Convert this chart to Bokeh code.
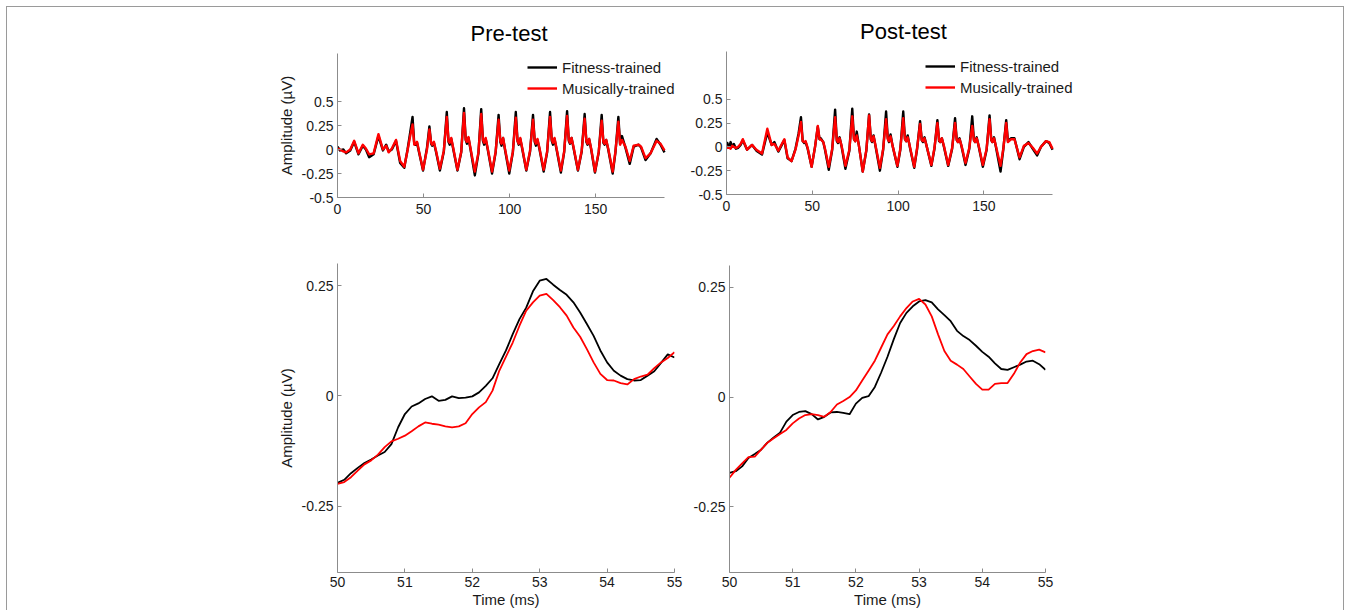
from bokeh.plotting import figure
from bokeh.models import Range1d, FixedTicker, Legend, LegendItem
from bokeh.layouts import row, column
from bokeh.embed import file_html
from bokeh.resources import INLINE

# ---------------- data: full response (0-190 ms) ----------------
PRE_T = [0.0, 1.5, 3.4, 5.0, 7.4, 9.7, 12.2, 14.7, 16.5, 18.4, 21.0, 23.8, 26.4, 28.3, 29.7, 31.6, 34.0, 36.4, 38.8, 40.7, 42.0,
         43.6, 44.6, 45.3, 46.2, 47.4, 49.7, 52.0,
         53.4, 54.4, 55.0, 56.0, 57.2, 59.5, 61.8,
         63.5, 64.5, 65.2, 66.1, 67.3, 69.7, 71.9,
         73.5, 74.5, 75.2, 76.1, 77.3, 79.8, 81.9,
         83.5, 84.5, 85.2, 86.1, 87.3, 89.8, 91.9,
         93.6, 94.6, 95.3, 96.2, 97.4, 99.8, 101.9,
         103.6, 104.6, 105.3, 106.2, 107.4, 109.7, 111.9,
         113.6, 114.6, 115.3, 116.2, 117.4, 119.8, 121.8,
         123.5, 124.5, 125.2, 126.1, 127.3, 129.8, 131.7,
         133.4, 134.4, 135.1, 136.0, 137.2, 139.7, 141.9,
         143.6, 144.6, 145.3, 146.2, 147.4, 149.6, 151.8,
         153.5, 154.5, 155.2, 156.1, 157.3, 159.9, 161.5,
         163.2, 164.2, 165.3, 167.3, 169.8, 172.1, 175.0, 176.4, 179.0, 181.9, 185.4, 187.7, 190.0]
PRE_FIT = [0.03, -0.01, 0.0, -0.04, -0.01, 0.08, -0.05, 0.04, 0.0, -0.08, -0.05, 0.14, -0.01, 0.05, -0.02, 0.0, 0.09, -0.14, -0.19, 0.0, 0.15,
           0.34, 0.06, 0.05, 0.07, -0.03, -0.22, 0.02,
           0.24, 0.06, 0.04, 0.07, -0.02, -0.22, -0.02,
           0.39, 0.08, 0.05, 0.11, 0.0, -0.22, -0.03,
           0.43, 0.10, 0.06, 0.12, 0.0, -0.27, -0.04,
           0.42, 0.09, 0.05, 0.11, 0.0, -0.25, -0.03,
           0.36, 0.08, 0.04, 0.12, -0.01, -0.25, -0.03,
           0.39, 0.09, 0.05, 0.11, 0.0, -0.22, -0.02,
           0.36, 0.08, 0.04, 0.10, 0.0, -0.23, -0.03,
           0.39, 0.09, 0.05, 0.11, 0.0, -0.24, -0.03,
           0.40, 0.09, 0.06, 0.12, 0.01, -0.22, -0.02,
           0.37, 0.08, 0.05, 0.11, 0.0, -0.24, -0.03,
           0.36, 0.07, 0.05, 0.10, 0.0, -0.25, -0.03,
           0.34, 0.06, 0.14, 0.02, -0.15, 0.03, 0.05, 0.02, -0.11, -0.04, 0.11, 0.05, -0.03]
PRE_MUS = [0.01, 0.0, -0.02, -0.03, 0.0, 0.09, -0.04, 0.05, 0.01, -0.05, -0.04, 0.16, 0.0, 0.04, -0.03, 0.01, 0.10, -0.12, -0.18, -0.01, 0.12,
           0.26, 0.05, 0.06, 0.08, -0.02, -0.21, 0.0,
           0.21, 0.07, 0.05, 0.08, -0.01, -0.20, -0.01,
           0.34, 0.09, 0.07, 0.12, 0.01, -0.21, -0.02,
           0.38, 0.10, 0.08, 0.13, 0.01, -0.23, -0.03,
           0.37, 0.10, 0.07, 0.12, 0.01, -0.23, -0.02,
           0.31, 0.09, 0.06, 0.12, 0.0, -0.22, -0.02,
           0.33, 0.09, 0.06, 0.12, 0.01, -0.21, -0.01,
           0.31, 0.09, 0.06, 0.11, 0.01, -0.21, -0.02,
           0.34, 0.10, 0.07, 0.12, 0.01, -0.22, -0.02,
           0.35, 0.10, 0.07, 0.12, 0.02, -0.21, -0.01,
           0.32, 0.09, 0.06, 0.11, 0.01, -0.23, -0.02,
           0.30, 0.08, 0.06, 0.10, 0.01, -0.23, -0.02,
           0.29, 0.05, 0.10, 0.03, -0.12, 0.04, 0.05, 0.03, -0.09, -0.04, 0.09, 0.06, -0.01]

POST_T = [0.0, 0.5, 1.4, 2.4, 3.3, 4.3, 5.5, 6.8, 8.2, 9.5, 12.0, 14.9, 17.4, 20.7, 23.8, 26.3, 27.9, 30.2, 33.7, 35.6, 37.9, 40.2, 42.0,
          43.4, 44.4, 45.3, 46.1, 47.3, 49.6, 51.6,
          53.2, 54.2, 54.9, 56.4, 57.4, 59.6, 61.6,
          63.3, 64.3, 65.0, 65.9, 67.1, 69.3, 71.6,
          73.3, 74.3, 75.0, 75.9, 77.1, 79.4, 81.5,
          83.1, 84.1, 84.8, 85.7, 86.9, 89.4, 91.3,
          93.0, 94.0, 94.7, 95.6, 96.8, 99.6, 101.3,
          103.0, 104.0, 104.7, 105.6, 106.8, 109.4, 111.1,
          112.8, 113.8, 114.5, 115.4, 116.6, 119.4, 121.2,
          122.9, 123.9, 124.6, 125.5, 126.7, 129.2, 131.5,
          133.2, 134.2, 134.9, 135.8, 137.0, 139.3, 141.5,
          143.2, 144.2, 144.9, 145.8, 147.0, 149.4, 151.6,
          153.3, 154.3, 155.0, 155.9, 157.1, 159.7, 161.3,
          163.0, 164.0, 165.9, 167.8, 170.8, 173.3, 176.0, 178.5, 181.0, 183.3, 186.2, 188.1, 190.0]
POST_FIT = [0.0, 0.04, -0.01, 0.05, 0.0, 0.03, -0.02, -0.01, 0.02, 0.07, -0.03, 0.02, -0.04, -0.08, 0.15, 0.02, 0.05, -0.05, 0.07, -0.12, -0.15, -0.02, 0.14,
            0.31, 0.06, 0.04, 0.05, -0.02, -0.21, 0.0,
            0.21, 0.08, 0.09, 0.05, -0.03, -0.24, -0.03,
            0.39, 0.06, 0.04, 0.10, 0.0, -0.23, -0.04,
            0.40, 0.08, 0.06, 0.16, 0.02, -0.26, -0.04,
            0.34, 0.08, 0.05, 0.12, 0.0, -0.25, -0.03,
            0.37, 0.09, 0.05, 0.13, 0.01, -0.21, -0.03,
            0.37, 0.08, 0.06, 0.12, 0.0, -0.22, -0.02,
            0.27, 0.07, 0.05, 0.10, 0.01, -0.20, -0.02,
            0.28, 0.06, 0.05, 0.09, 0.0, -0.20, -0.02,
            0.30, 0.07, 0.05, 0.09, 0.0, -0.19, -0.02,
            0.32, 0.07, 0.05, 0.10, 0.0, -0.21, -0.03,
            0.33, 0.07, 0.05, 0.10, -0.01, -0.26, -0.03,
            0.28, 0.06, 0.09, 0.09, -0.13, 0.0, 0.05, -0.02, -0.09, 0.0, 0.06, 0.04, -0.03]
POST_MUS = [-0.02, 0.0, -0.01, -0.02, 0.01, 0.0, -0.01, 0.0, 0.03, 0.08, -0.03, 0.02, -0.03, -0.07, 0.19, 0.02, 0.03, -0.04, 0.08, -0.11, -0.15, -0.03, 0.12,
            0.26, 0.06, 0.05, 0.06, -0.01, -0.21, 0.0,
            0.22, 0.08, 0.08, 0.05, -0.02, -0.21, -0.02,
            0.31, 0.07, 0.05, 0.09, 0.01, -0.20, -0.03,
            0.32, 0.08, 0.06, 0.12, 0.02, -0.26, -0.03,
            0.33, 0.08, 0.06, 0.11, 0.01, -0.22, -0.02,
            0.29, 0.08, 0.06, 0.11, 0.01, -0.20, -0.02,
            0.30, 0.08, 0.06, 0.10, 0.01, -0.21, -0.01,
            0.24, 0.07, 0.06, 0.09, 0.01, -0.19, -0.01,
            0.25, 0.07, 0.05, 0.09, 0.01, -0.19, -0.01,
            0.25, 0.07, 0.05, 0.08, 0.01, -0.17, -0.01,
            0.22, 0.07, 0.05, 0.09, 0.01, -0.19, -0.02,
            0.29, 0.07, 0.05, 0.09, 0.0, -0.20, -0.02,
            0.25, 0.05, 0.08, 0.08, -0.11, 0.01, 0.04, -0.01, -0.07, 0.0, 0.06, 0.05, -0.02]

# ---------------- data: 50-55 ms detail ----------------
ZOOM_T = [50.0, 50.1, 50.2, 50.3, 50.4, 50.5, 50.6, 50.7, 50.8, 50.9,
          51.0, 51.1, 51.2, 51.3, 51.4, 51.5, 51.6, 51.7, 51.8, 51.9,
          52.0, 52.1, 52.2, 52.3, 52.4, 52.5, 52.6, 52.7, 52.8, 52.9,
          53.0, 53.1, 53.2, 53.3, 53.4, 53.5, 53.6, 53.7, 53.8, 53.9,
          54.0, 54.1, 54.2, 54.3, 54.4, 54.5, 54.6, 54.7, 54.8, 54.9, 55.0]
PRE_FIT_Z = [-0.197, -0.190, -0.175, -0.163, -0.152, -0.144, -0.135, -0.127, -0.109, -0.071,
             -0.041, -0.024, -0.017, -0.007, -0.001, -0.011, -0.009, -0.001, -0.005, -0.004,
             -0.001, 0.008, 0.023, 0.040, 0.072, 0.103, 0.140, 0.174, 0.200, 0.237,
             0.261, 0.265, 0.252, 0.240, 0.229, 0.212, 0.189, 0.163, 0.136, 0.103,
             0.076, 0.057, 0.046, 0.038, 0.035, 0.036, 0.046, 0.056, 0.075, 0.094, 0.087]
PRE_MUS_Z = [-0.199, -0.195, -0.184, -0.169, -0.155, -0.146, -0.133, -0.116, -0.103, -0.097,
             -0.090, -0.080, -0.069, -0.060, -0.063, -0.065, -0.069, -0.071, -0.069, -0.062,
             -0.041, -0.026, -0.014, 0.012, 0.057, 0.089, 0.121, 0.159, 0.193, 0.212,
             0.227, 0.231, 0.217, 0.201, 0.182, 0.155, 0.134, 0.106, 0.076, 0.050,
             0.036, 0.035, 0.029, 0.026, 0.038, 0.044, 0.048, 0.063, 0.076, 0.086, 0.099]
POST_FIT_Z = [-0.173, -0.169, -0.158, -0.139, -0.130, -0.120, -0.104, -0.092, -0.081, -0.056,
              -0.041, -0.034, -0.032, -0.039, -0.051, -0.045, -0.035, -0.034, -0.036, -0.039,
              -0.015, -0.002, 0.002, 0.023, 0.056, 0.092, 0.132, 0.169, 0.192, 0.207,
              0.218, 0.221, 0.216, 0.200, 0.187, 0.173, 0.151, 0.139, 0.130, 0.117,
              0.103, 0.092, 0.077, 0.064, 0.062, 0.068, 0.074, 0.081, 0.083, 0.075, 0.062]
POST_MUS_Z = [-0.184, -0.166, -0.151, -0.137, -0.136, -0.120, -0.104, -0.094, -0.084, -0.075,
              -0.060, -0.049, -0.041, -0.039, -0.041, -0.045, -0.034, -0.017, -0.009, 0.0,
              0.015, 0.038, 0.060, 0.083, 0.113, 0.143, 0.162, 0.184, 0.203, 0.218,
              0.224, 0.211, 0.184, 0.143, 0.105, 0.083, 0.074, 0.064, 0.047, 0.030,
              0.017, 0.017, 0.030, 0.032, 0.032, 0.053, 0.079, 0.098, 0.105, 0.108, 0.102]

TOP_X_TICKS = [0, 50, 100, 150]
TOP_Y_TICKS = [-0.5, -0.25, 0, 0.25, 0.5]
BOT_X_TICKS = [50, 51, 52, 53, 54, 55]
BOT_Y_TICKS = [-0.25, 0, 0.25]
Y_LABELS = {-0.5: "-0.5", -0.25: "-0.25", 0: "0", 0.25: "0.25", 0.5: "0.5"}
SERIES = ["Fitness-trained", "Musically-trained"]
COLORS = ["#000000", "#ff0000"]

FONT = "Liberation Sans"
AXIS_COL = "#8c8c8c"
TEXT_COL = "#1a1a1a"


def make_fig(width, height, mbl, mbr, mbt, mbb, xr, yr, xticks, yticks, xbounds,
             title=None, ylabel=None, xlabel=None, xstand=4):
    p = figure(width=width, height=height, output_backend="svg", toolbar_location=None,
               x_range=Range1d(*xr), y_range=Range1d(*yr), title=title,
               min_border_left=mbl, min_border_right=mbr, min_border_top=mbt, min_border_bottom=mbb)
    p.frame_align = False
    p.grid.visible = False
    p.outline_line_color = None
    p.background_fill_color = "white"
    p.border_fill_color = None
    for ax, ticks in ((p.xaxis[0], xticks), (p.yaxis[0], yticks)):
        ax.ticker = FixedTicker(ticks=ticks)
        ax.axis_line_color = AXIS_COL
        ax.axis_line_width = 1
        ax.major_tick_line_color = AXIS_COL
        ax.major_tick_in = 4
        ax.major_tick_out = 0
        ax.minor_tick_line_color = None
        ax.major_label_text_font = FONT
        ax.major_label_text_font_size = "14px"
        ax.major_label_text_color = TEXT_COL
        ax.axis_label_text_font = FONT
        ax.axis_label_text_font_size = "15px"
        ax.axis_label_text_font_style = "normal"
        ax.axis_label_text_color = TEXT_COL
    p.xaxis[0].bounds = xbounds
    p.yaxis[0].major_label_overrides = {k: v for k, v in Y_LABELS.items() if k in yticks}
    p.xaxis[0].major_label_standoff = xstand
    p.yaxis[0].major_label_standoff = 4
    if ylabel:
        p.yaxis[0].axis_label = ylabel
        p.yaxis[0].axis_label_standoff = 4
    if xlabel:
        p.xaxis[0].axis_label = xlabel
        p.xaxis[0].axis_label_standoff = 1
    if title:
        p.title.align = "center"
        p.title.text_font = FONT
        p.title.text_font_size = "22px"
        p.title.text_font_style = "normal"
        p.title.text_color = "#000000"
        p.title.standoff = 15
    return p


def add_legend(p, renderers, loc):
    items = [LegendItem(label=s, renderers=[r]) for s, r in zip(SERIES, renderers)]
    leg = Legend(items=items, location=loc)
    leg.border_line_color = None
    leg.background_fill_alpha = 0
    leg.padding = 0
    leg.margin = 0
    leg.spacing = 3
    leg.glyph_width = 30
    leg.glyph_height = 18
    leg.label_height = 18
    leg.label_standoff = 5
    leg.label_text_font = FONT
    leg.label_text_font_size = "15px"
    leg.label_text_color = TEXT_COL
    p.add_layout(leg)


# top-left: Pre-test full (frame widened to the right for the legend; axis line stops at 190)
tl = make_fig(673, 233, 330, 0, 46, 43, (0, 199.3), (-0.5, 1.0), TOP_X_TICKS, TOP_Y_TICKS, (0, 190),
              title="Pre-test", ylabel="Amplitude (µV)", xstand=6)
r1 = tl.line(PRE_T, PRE_FIT, line_color=COLORS[0], line_width=2.4, line_join="round")
r2 = tl.line(PRE_T, PRE_MUS, line_color=COLORS[1], line_width=2.4, line_join="round")
add_legend(tl, [r1, r2], (190, 100))

# top-right: Post-test full
tr = make_fig(663, 233, 46, 263, 44, 46, (0, 206.3), (-0.5, 1.0), TOP_X_TICKS, TOP_Y_TICKS, (0, 190),
              title="Post-test", xstand=6)
r3 = tr.line(POST_T, POST_FIT, line_color=COLORS[0], line_width=2.4, line_join="round")
r4 = tr.line(POST_T, POST_MUS, line_color=COLORS[1], line_width=2.4, line_join="round")
add_legend(tr, [r3, r4], (199, 98))

# bottom-left: Pre-test detail
bl = make_fig(683, 370, 330, 16, 23, 38, (50, 55), (-0.4, 0.3), BOT_X_TICKS, BOT_Y_TICKS, (50, 55),
              ylabel="Amplitude (µV)", xlabel="Time (ms)")
bl.line(ZOOM_T, PRE_FIT_Z, line_color=COLORS[0], line_width=1.8, line_join="round")
bl.line(ZOOM_T, PRE_MUS_Z, line_color=COLORS[1], line_width=1.8, line_join="round")

# bottom-right: Post-test detail
br = make_fig(653, 370, 39, 298, 25, 37, (50, 55), (-0.4, 0.3), BOT_X_TICKS, BOT_Y_TICKS, (50, 55),
              xlabel="Time (ms)")
br.line(ZOOM_T, POST_FIT_Z, line_color=COLORS[0], line_width=1.8, line_join="round")
br.line(ZOOM_T, POST_MUS_Z, line_color=COLORS[1], line_width=1.8, line_join="round")

layout = column(row(tl, tr), row(bl, br),
                styles={"border-top": "1px solid #9a9a9a", "border-left": "1px solid #9a9a9a",
                        "border-right": "1px solid #9a9a9a", "margin-left": "6px",
                        "margin-top": "6px", "background": "white"})

open("out.html", "w").write(file_html(layout, INLINE))
